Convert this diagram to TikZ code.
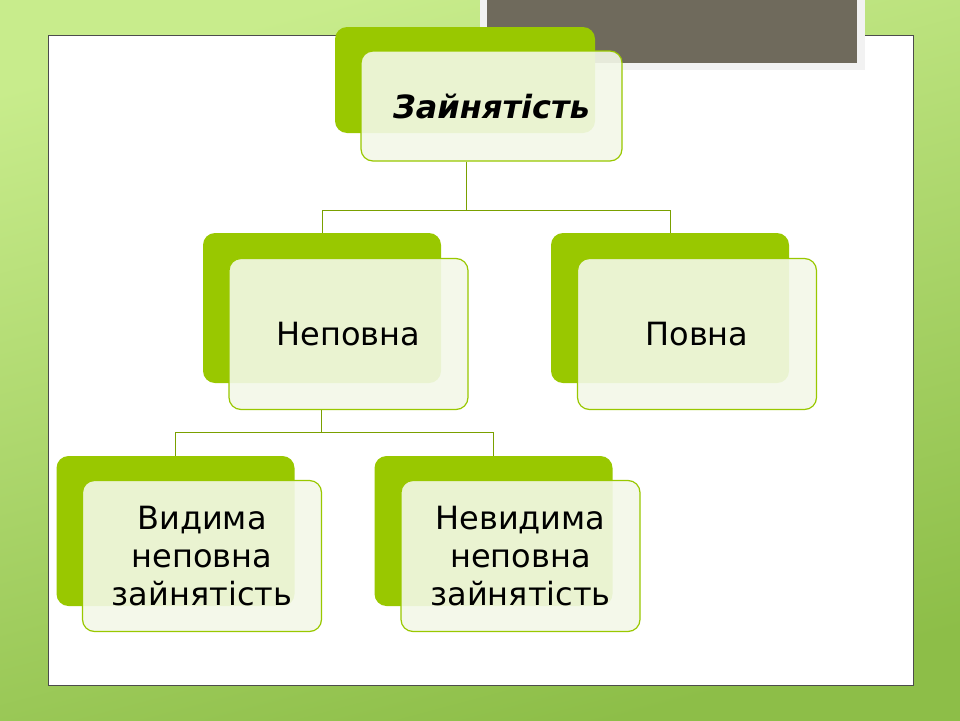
\documentclass[tikz,border=0pt]{standalone}
\usepackage{fontspec}
\setmainfont{DejaVu Sans}
\usetikzlibrary{positioning,calc}
\definecolor{leaf}{HTML}{99C800}
\definecolor{paper}{HTML}{F3F8E8}
\definecolor{slate}{HTML}{6F6A5C}
\definecolor{meadowtop}{HTML}{C8EC8C}
\definecolor{meadowbot}{HTML}{8DBE48}
\tikzset{
  back/.style={fill=leaf, rounded corners=12pt, minimum width=238pt, minimum height=150pt, inner sep=0pt},
  front/.style={draw=leaf, line width=1.2pt, fill=paper, fill opacity=0.9, text opacity=1,
    rounded corners=12pt, minimum width=239pt, minimum height=151pt, inner sep=0pt,
    font=\fontsize{32}{38}\selectfont, align=center},
  link/.style={draw=leaf!80!black, line width=1pt}
}
\begin{document}
\begin{tikzpicture}[x=1pt,y=-1pt]
    \useasboundingbox (0,0) rectangle (960,720);
    % background
    \shade[top color=meadowtop, bottom color=meadowbot, shading angle=15]
      (0,0) rectangle (960,720);
    \fill[white] (48,35) rectangle (913,685);
    \draw[black!70, line width=0.6pt] (48,35) rectangle (913,685);
    \fill[white!90!gray] (480,0) rectangle (865,70);
    \fill[slate] (487,0) rectangle (857,63);

    % boxes
    \node[back, minimum width=260pt, minimum height=106pt] (topb) at (465,80) {};
    \node[front, minimum width=261pt, minimum height=110pt] (top) at (491.5,106)
      {\textbf{\textit{Зайнятість}}};
    \node[back] (partb) at (322,308) {};
    \node[front] (part) at (348.5,334) {Неповна};
    \node[back] (fullb) at (670,308) {};
    \node[front] (full) at (697,334) {Повна};
    \node[back] (seenb) at (175.5,531) {};
    \node[front] (seen) at (202,556) {Видима\\неповна\\зайнятість};
    \node[back] (hidb) at (493.5,531) {};
    \node[front] (hid) at (520.5,556) {Невидима\\неповна\\зайнятість};

    % connectors
    \coordinate (j1) at ($(top.south)+(-25,49)$);
    \draw[link] (top.south -| j1) -- (j1);
    \draw[link] (j1) -| (partb.north);
    \draw[link] (j1) -| (fullb.north);
    \coordinate (j2) at ($(part.south)+(-27,22)$);
    \draw[link] (part.south -| j2) -- (j2);
    \draw[link] (j2) -| (seenb.north);
    \draw[link] (j2) -| (hidb.north);
\end{tikzpicture}
\end{document}
